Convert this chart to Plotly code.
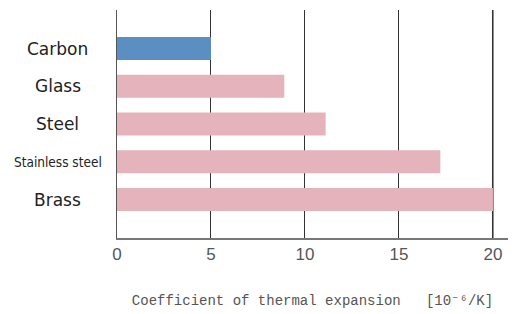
import plotly.graph_objects as go

categories = ["Carbon", "Glass", "Steel", "Stainless steel", "Brass"]
values = [5.0, 8.9, 11.1, 17.2, 20.0]
bar_colors = ["#5B8FC2", "#E5B3BC", "#E5B3BC", "#E5B3BC", "#E5B3BC"]
x_ticks = [0, 5, 10, 15, 20]
x_title = "Coefficient of thermal expansion   [10⁻⁶/K]"

fig = go.Figure()
fig.add_trace(go.Bar(
    y=categories, x=values, orientation="h",
    marker=dict(color=bar_colors, line=dict(width=0)),
    width=0.61, showlegend=False, hoverinfo="skip",
))

# category labels, centered to the left of the plot
for c in categories:
    narrow = len(c) > 10
    fig.add_annotation(
        x=-0.152, xref="paper", y=c, yref="y",
        text=c, showarrow=False, xanchor="center", yanchor="middle",
        font=dict(family="Liberation Sans Narrow, DejaVu Sans Condensed, Arial Narrow" if narrow else "DejaVu Sans",
                  size=13.5 if narrow else 17, color="#222222"),
    )

fig.add_shape(type="line", xref="x", yref="paper", x0=x_ticks[-1], x1=x_ticks[-1], y0=0, y1=1,
              line=dict(color="#888888", width=2), layer="below")

fig.update_layout(
    width=514, height=314,
    margin=dict(l=117, r=6, t=10, b=76),
    plot_bgcolor="white", paper_bgcolor="white",
    bargap=0.39,
    xaxis=dict(
        range=[0, 20.8], tickvals=x_ticks, ticktext=[str(t) for t in x_ticks],
        showgrid=True, gridcolor="#333333", gridwidth=1,
        zeroline=False, showline=True, linecolor="#777777", linewidth=2,
        ticks="", tickfont=dict(family="Liberation Sans", size=17, color="#555555"),
        title=dict(text=x_title, standoff=32,
                   font=dict(family="Liberation Mono, DejaVu Sans Mono", size=14, color="#555555")),
    ),
    yaxis=dict(
        categoryorder="array", categoryarray=categories,
        range=[5.02, -1.02], showticklabels=False, ticks="",
        showgrid=False, zeroline=False, showline=True, linecolor="#555555", linewidth=1.5,
    ),
)

fig.write_html("out.html", config={"displayModeBar": False, "staticPlot": True},
               post_script="document.body.style.margin='0';document.body.style.overflow='hidden';")
